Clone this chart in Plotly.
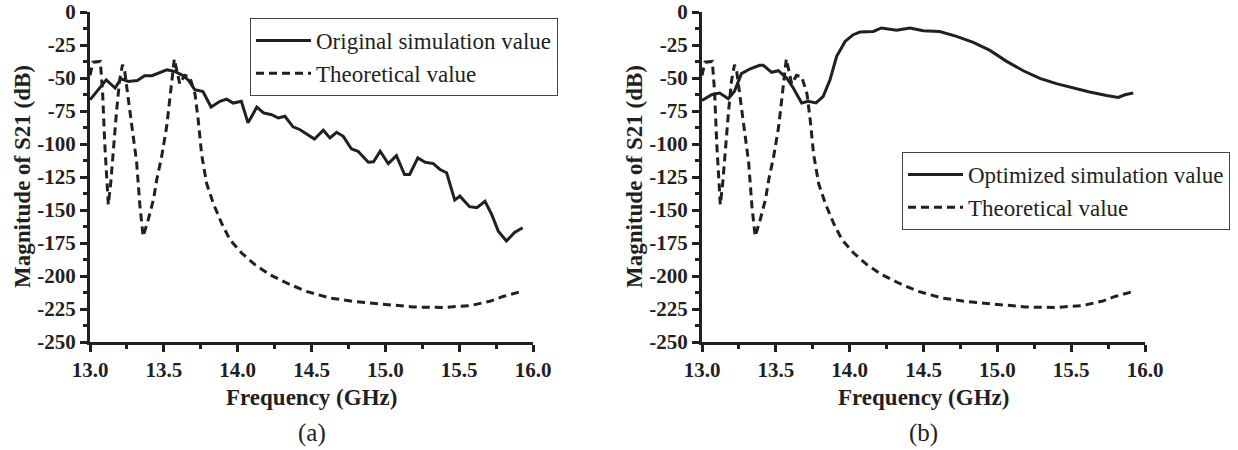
import plotly.graph_objects as go

# ---------------- data ----------------
freq_orig = [13.0, 13.11, 13.17, 13.21, 13.26, 13.32, 13.37, 13.42, 13.52, 13.575, 13.62, 13.665,
             13.71, 13.765, 13.82, 13.88, 13.925, 13.97, 14.025, 14.07, 14.13, 14.175, 14.23, 14.275,
             14.32, 14.375, 14.42, 14.52, 14.58, 14.625, 14.67, 14.715, 14.77, 14.815, 14.885, 14.92,
             14.965, 15.02, 15.075, 15.13, 15.165, 15.22, 15.27, 15.325, 15.37, 15.415, 15.47, 15.505,
             15.57, 15.62, 15.675, 15.72, 15.765, 15.82, 15.875, 15.93]
s21_orig = [-66.5, -51.4, -57.6, -50.6, -52.6, -51.9, -48.3, -48.3, -43.8, -45.1, -47.6, -51.4,
            -58.9, -60.2, -72.0, -67.7, -66.0, -69.0, -67.7, -84.0, -72.0, -76.5, -77.8, -80.3,
            -79.0, -87.0, -89.0, -96.2, -89.6, -95.4, -91.1, -94.2, -103.7, -105.5, -113.8, -113.5,
            -105.5, -114.8, -108.8, -123.1, -123.1, -110.5, -113.8, -114.8, -119.3, -121.8, -142.5, -139.5,
            -147.5, -148.3, -143.5, -153.3, -166.0, -173.5, -167.0, -163.5]

freq_opt = [13.0, 13.065, 13.12, 13.178, 13.22, 13.267, 13.323, 13.39, 13.415, 13.472, 13.517, 13.573,
            13.618, 13.675, 13.72, 13.772, 13.821, 13.867, 13.912, 13.969, 14.024, 14.07, 14.16, 14.215,
            14.318, 14.408, 14.498, 14.61, 14.724, 14.837, 14.95, 15.063, 15.176, 15.288, 15.4, 15.512,
            15.625, 15.74, 15.819, 15.864, 15.92]
s21_opt = [-67.0, -62.7, -61.4, -65.7, -60.1, -46.7, -43.2, -40.4, -40.4, -45.7, -44.5, -50.0,
           -57.6, -68.9, -67.7, -68.9, -63.9, -51.3, -33.6, -22.3, -17.2, -15.2, -14.7, -12.1,
           -13.9, -12.1, -14.2, -14.8, -18.5, -23.0, -29.1, -37.4, -44.5, -50.3, -54.3, -57.6,
           -60.6, -63.2, -64.7, -62.7, -61.4]

freq_theory = [13.0, 13.02, 13.07, 13.085, 13.1, 13.115, 13.124, 13.14, 13.16, 13.18, 13.2, 13.22,
               13.235, 13.248, 13.27, 13.293, 13.316, 13.338, 13.36, 13.395, 13.43, 13.452, 13.486, 13.519,
               13.542, 13.557, 13.571, 13.608, 13.64, 13.675, 13.711, 13.733, 13.756, 13.79, 13.835, 13.891,
               13.948, 14.027, 14.117, 14.218, 14.331, 14.466, 14.625, 14.783, 14.941, 15.05, 15.19, 15.393,
               15.572, 15.707, 15.797, 15.899, 15.93]
s21_theory = [-48.0, -38.0, -37.5, -60.0, -100.0, -135.0, -146.0, -130.0, -100.0, -75.0, -52.0, -40.0,
              -45.0, -56.0, -74.0, -92.0, -114.0, -147.0, -170.0, -157.0, -142.0, -127.0, -109.0, -87.0,
              -64.0, -46.0, -35.6, -54.5, -48.0, -49.0, -62.0, -82.0, -108.0, -130.0, -145.0, -160.0,
              -172.5, -182.6, -191.4, -199.0, -205.3, -211.7, -216.7, -219.2, -221.0, -222.3, -223.5, -223.8,
              -222.5, -219.2, -215.5, -212.4, -212.0]

x_ticks = [13.0, 13.5, 14.0, 14.5, 15.0, 15.5, 16.0]
x_tick_labels = ["13.0", "13.5", "14.0", "14.5", "15.0", "15.5", "16.0"]
y_ticks = [0, -25, -50, -75, -100, -125, -150, -175, -200, -225, -250]
y_tick_labels = ["0", "-25", "-50", "-75", "-100", "-125", "-150", "-175", "-200", "-225", "-250"]

# ---------------- layout helpers ----------------
W, H = 1238, 450
ink = "#231f20"
serif = "Liberation Serif"


def px(x):
    return x / W


def py(y):
    return 1 - y / H


def bold(labels):
    return ["<b>%s</b>" % s for s in labels]


fig = go.Figure()
solid = dict(color=ink, width=3)
dashed = dict(color=ink, width=3, dash="8px,5px")

fig.add_trace(go.Scatter(x=freq_orig, y=s21_orig, mode="lines", name="Original simulation value",
                         line=solid, xaxis="x", yaxis="y", legend="legend"))
fig.add_trace(go.Scatter(x=freq_theory, y=s21_theory, mode="lines", name="Theoretical value",
                         line=dashed, xaxis="x", yaxis="y", legend="legend"))
fig.add_trace(go.Scatter(x=freq_opt, y=s21_opt, mode="lines", name="Optimized simulation value",
                         line=solid, xaxis="x2", yaxis="y2", legend="legend2"))
fig.add_trace(go.Scatter(x=freq_theory, y=s21_theory, mode="lines", name="Theoretical value",
                         line=dashed, xaxis="x2", yaxis="y2", legend="legend2"))

tickfont = dict(family=serif, size=21, color=ink)
xcommon = dict(range=[13, 16], showline=True, linecolor=ink, linewidth=3, ticks="outside",
               ticklen=7, tickwidth=2.5, tickcolor=ink, showgrid=False, zeroline=False,
               tickvals=x_ticks, ticktext=bold(x_tick_labels), tickfont=tickfont, automargin=False,
               ticklabeloverflow="allow",
               minor=dict(ticks="outside", ticklen=4, tickwidth=2.5, tickcolor=ink, dtick=0.25,
                          tick0=13, showgrid=False))
ycommon = dict(range=[-250, 0], showline=True, linecolor=ink, linewidth=3, ticks="outside",
               ticklen=7, tickwidth=2.5, tickcolor=ink, showgrid=False, zeroline=False,
               tickvals=y_ticks, ticktext=bold(y_tick_labels), tickfont=tickfont, automargin=False,
               ticklabeloverflow="allow",
               minor=dict(ticks="outside", ticklen=4, tickwidth=2.5, tickcolor=ink, dtick=12.5,
                          tick0=0, showgrid=False))

ydom = [py(342), py(12)]
legend_font = dict(family=serif, size=23, color=ink)
fig.update_layout(
    width=W, height=H, margin=dict(l=0, r=0, t=0, b=0),
    paper_bgcolor="white", plot_bgcolor="white",
    xaxis=dict(domain=[px(90), px(533)], anchor="y", **xcommon),
    yaxis=dict(domain=ydom, anchor="x", **ycommon),
    xaxis2=dict(domain=[px(702), px(1145)], anchor="y2", **xcommon),
    yaxis2=dict(domain=ydom, anchor="x2", **ycommon),
    legend=dict(x=px(250), y=py(18), xanchor="left", yanchor="top", bgcolor="white",
                bordercolor="#444", borderwidth=1, itemwidth=55, tracegroupgap=0,
                font=legend_font),
    legend2=dict(x=px(902), y=py(152), xanchor="left", yanchor="top", bgcolor="white",
                 bordercolor="#444", borderwidth=1, itemwidth=55, tracegroupgap=0,
                 font=legend_font),
    showlegend=True,
)

title_font = dict(family=serif, size=23, color=ink, weight="bold")
label_font = dict(family=serif, size=25, color=ink)
annotations = []
for cx, ytx, tag in [((90 + 533) / 2, 22, "(a)"), ((702 + 1145) / 2, 634, "(b)")]:
    annotations.append(dict(text="Magnitude of S21 (dB)", x=px(ytx), y=py(177), xref="paper",
                            yref="paper", textangle=-90, showarrow=False, font=title_font,
                            xanchor="center", yanchor="middle"))
    annotations.append(dict(text="Frequency (GHz)", x=px(cx), y=py(397), xref="paper", yref="paper",
                            showarrow=False, font=title_font, xanchor="center", yanchor="middle"))
    annotations.append(dict(text=tag, x=px(cx), y=py(433), xref="paper", yref="paper",
                            showarrow=False, font=label_font, xanchor="center", yanchor="middle"))
fig.update_layout(annotations=annotations)

fig.write_html("out.html")
